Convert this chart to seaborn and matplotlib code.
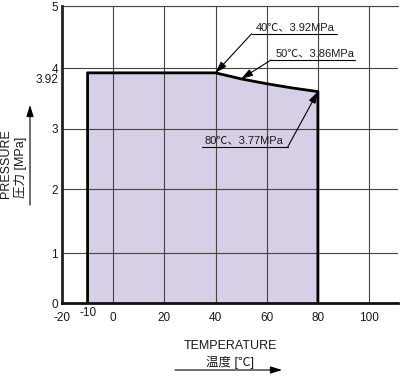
import numpy as np
import seaborn as sns
import matplotlib.pyplot as plt
import matplotlib.transforms as mtransforms

# Operating range (temperature in degC, pressure in MPa).
temp_top = [-10, 40, 45, 50, 60, 70, 80]
press_top = [3.92, 3.92, 3.87, 3.82, 3.74, 3.67, 3.61]

x_ticks = [-20, 0, 20, 40, 60, 80, 100]
x_minor = [-10]
y_ticks = [0, 1, 2, 3, 4, 5]
y_minor = [3.92]

# Callout labels and the points they point at.
callout_text = ['40℃、3.92MPa', '50℃、3.86MPa', '80℃、3.77MPa']
callout_temp = [40, 50, 80]
callout_press = [3.92, 3.82, 3.61]

sns.set_style('white')
plt.rcParams['font.family'] = ['Liberation Sans', 'Noto Sans CJK JP']
plt.rcParams['text.color'] = '#1a1a1a'

fig = plt.figure(figsize=(4, 3.8), dpi=100)
ax = fig.add_axes([0.155, 0.2026, 0.84, 0.7816])

# The original drawing has uneven spacing on the pressure axis, so use a
# piecewise-linear scale through the tick positions (pixels from the bottom).
tick_px = [0, 50, 114, 174.5, 235, 297]
ax.set_yscale('function',
              functions=(lambda v: np.interp(v, y_ticks, tick_px),
                         lambda p: np.interp(p, tick_px, y_ticks)))

# shaded region + its outline
ax.fill_between(temp_top, press_top, color='#d6cfe6', lw=0, zorder=1)
sns.lineplot(x=[temp_top[0]] + temp_top + [temp_top[-1]],
             y=[0] + press_top + [0],
             sort=False, estimator=None, color='black', lw=2, ax=ax, zorder=4)

ax.set_xlim(-20, 111.3)
ax.set_ylim(0, 5)
ax.set_xticks(x_ticks)
ax.set_xticks(x_minor, minor=True)
ax.set_yticks(y_ticks)
ax.set_yticks(y_minor, minor=True)
ax.set_xticklabels([str(t) for t in x_ticks])
ax.set_xticklabels([str(t) for t in x_minor], minor=True)
ax.set_yticklabels([str(t) for t in y_ticks])
ax.set_yticklabels([str(t) for t in y_minor], minor=True)
ax.set_xlabel('')
ax.set_ylabel('')

ax.grid(True, which='major', color='#444444', lw=0.8, zorder=2)
ax.set_axisbelow(False)
ax.tick_params(which='both', length=0, labelsize=8.5, labelcolor='#1a1a1a')
ax.tick_params(axis='x', which='major', pad=6.5)
ax.tick_params(axis='x', which='minor', pad=3)
ax.tick_params(axis='y', which='both', pad=3)

# 3.92 label sits a little below its line in the original
for t in ax.yaxis.get_minor_ticks():
    t.label1.set_transform(t.label1.get_transform() +
                           mtransforms.ScaledTranslation(0, -6 / 100, fig.dpi_scale_trans))

ax.spines['right'].set_visible(False)
ax.spines['top'].set_linewidth(0.8)
ax.spines['top'].set_color('#444444')
ax.spines['left'].set_linewidth(2)
ax.spines['left'].set_color('#222222')
ax.spines['bottom'].set_linewidth(2)
ax.spines['bottom'].set_color('#111111')
for s in ['left', 'bottom']:
    ax.spines[s].set_zorder(5)

# callouts: text on an underline, arrow from the underline end to the point
# (offsets in pixels from the target point)
line_start = [(36, 39), (30, 19), (-30, -55)]
line_end = [(121, 39), (114, 19), (-116, -55)]
text_pos = [(80, 40), (74, 21), (-74, -54)]
head = '-|>,head_length=0.7,head_width=0.22'
for txt, tx, py, a, b, c in zip(callout_text, callout_temp, callout_press,
                                line_start, line_end, text_pos):
    ax.annotate('', xy=(tx, py), xytext=a, textcoords='offset pixels',
                arrowprops=dict(arrowstyle=head, color='black', lw=0.8,
                                mutation_scale=10, shrinkA=0, shrinkB=0),
                zorder=6)
    ax.annotate(txt, xy=(tx, py), xytext=c, textcoords='offset pixels',
                ha='center', va='bottom', fontsize=8, zorder=6)
    # underline
    x0, y0 = ax.transData.transform((tx, py))
    inv = fig.transFigure.inverted()
    p0 = inv.transform((x0 + a[0], y0 + a[1]))
    p1 = inv.transform((x0 + b[0], y0 + b[1]))
    fig.add_artist(plt.Line2D([p0[0], p1[0]], [p0[1], p1[1]], color='black', lw=0.8))

# axis titles with direction arrows
fig.text(13.5 / 400, 1 - 198 / 380, 'PRESSURE\n圧力 [MPa]', rotation=90,
         ha='center', va='bottom', multialignment='left', fontsize=9,
         linespacing=1.15)
fig.text(230 / 400, 1 - 340 / 380, 'TEMPERATURE\n温度 [℃]', ha='center',
         va='top', multialignment='center', fontsize=9, linespacing=1.3)
ax.annotate('', xy=(30, 380 - 105), xycoords='figure pixels',
            xytext=(30, 380 - 205), textcoords='figure pixels',
            arrowprops=dict(arrowstyle=head, color='black', lw=0.8,
                            mutation_scale=10, shrinkA=0, shrinkB=0),
            annotation_clip=False)
ax.annotate('', xy=(282, 10), xycoords='figure pixels',
            xytext=(175, 10), textcoords='figure pixels',
            arrowprops=dict(arrowstyle=head, color='black', lw=0.8,
                            mutation_scale=10, shrinkA=0, shrinkB=0),
            annotation_clip=False)

fig.savefig('out.png', dpi=100)
